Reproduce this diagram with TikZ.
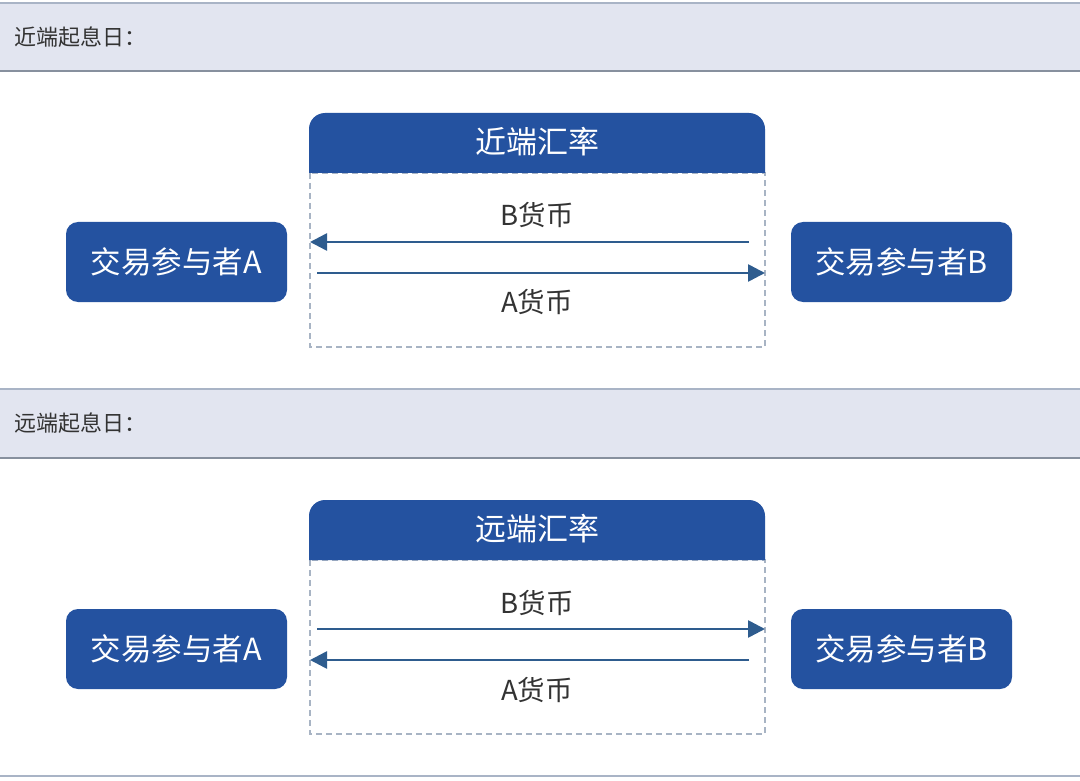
\documentclass[tikz,border=0pt]{standalone}
\usepackage{fontspec}
\setmainfont{Noto Sans CJK SC}
\newfontfamily\cjk{Noto Sans CJK SC}
\usetikzlibrary{arrows.meta}
\definecolor{mainblue}{HTML}{2452A0}
\definecolor{arrowblue}{HTML}{2E5C8E}
\definecolor{bandfill}{HTML}{E2E5F0}
\definecolor{bandline}{HTML}{A9B4C6}
\definecolor{dashgray}{HTML}{A8B4C4}
\definecolor{txtgray}{HTML}{333333}
\tikzset{
  party/.style={fill=mainblue, rounded corners=12pt, minimum width=221pt, minimum height=80pt, inner sep=0pt, text=white, font=\cjk\fontsize{30.5pt}{34pt}\selectfont},
  titletext/.style={text=white, font=\cjk\fontsize{31pt}{34pt}\selectfont, inner sep=0pt},
  cur/.style={text=txtgray, font=\cjk\fontsize{27.5pt}{31pt}\selectfont, inner sep=0pt},
  bandtext/.style={text=txtgray, font=\cjk\fontsize{22pt}{26pt}\selectfont, anchor=west, inner sep=0pt},
  flow/.style={draw=arrowblue, line width=2.6pt, -{Triangle[length=17pt,width=17pt]}},
  dashbox/.style={draw=dashgray, line width=1.6pt, dash pattern=on 6pt off 4pt},
}
\begin{document}
\begin{tikzpicture}[x=1pt,y=-1pt]
\useasboundingbox (0,0) rectangle (1080,781);
\fill[white] (0,0) rectangle (1080,781);

% ---------- band 1
\fill[bandfill] (0,3) rectangle (1080,71);
\draw[bandline, line width=2pt] (0,3) -- (1080,3);
\draw[bandline!80!black, line width=1.5pt] (0,71) -- (1080,71);
\node[bandtext] (band1) at (14,37) {近端起息日：};

% ---------- section 1
\draw[dashbox] (310,173) rectangle (765,347);
\fill[mainblue] (309,173) [rounded corners=16pt] -- (309,113) -- (765,113) [sharp corners] -- (765,173) -- cycle;
\node[titletext] (title1) at (537,142) {近端汇率};
\node[party] (a1) at (176.5,262) {交易参与者A};
\node[party] (b1) at (901.5,262) {交易参与者B};
\coordinate (t1s) at (749,242);
\coordinate (t1e) at (310,242);
\coordinate (u1s) at (317,273);
\coordinate (u1e) at (765,273);
\draw[flow] (t1s) -- (t1e);
\draw[flow] (u1s) -- (u1e);
\node[cur] (lb1) at (537,215) {B货币};
\node[cur] (la1) at (537,302) {A货币};

% ---------- band 2
\fill[bandfill] (0,389) rectangle (1080,458);
\draw[bandline, line width=2pt] (0,389) -- (1080,389);
\draw[bandline!80!black, line width=1.5pt] (0,458) -- (1080,458);
\node[bandtext] (band2) at (14,423) {远端起息日：};

% ---------- section 2
\draw[dashbox] (310,560) rectangle (765,734);
\fill[mainblue] (309,560) [rounded corners=16pt] -- (309,500) -- (765,500) [sharp corners] -- (765,560) -- cycle;
\node[titletext] (title2) at (537,529) {远端汇率};
\node[party] (a2) at (176.5,649) {交易参与者A};
\node[party] (b2) at (901.5,649) {交易参与者B};
\coordinate (t2s) at (317,629);
\coordinate (t2e) at (765,629);
\coordinate (u2s) at (749,660);
\coordinate (u2e) at (310,660);
\draw[flow] (t2s) -- (t2e);
\draw[flow] (u2s) -- (u2e);
\node[cur] (lb2) at (537,603) {B货币};
\node[cur] (la2) at (537,690) {A货币};

% ---------- bottom line
\draw[bandline, line width=2pt] (0,776) -- (1080,776);
\end{tikzpicture}
\end{document}
